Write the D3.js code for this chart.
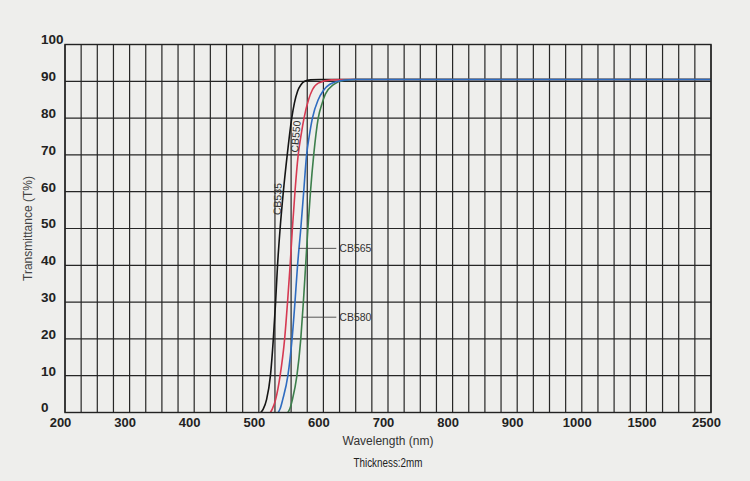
<!DOCTYPE html>
<html>
<head>
<meta charset="utf-8">
<script src="https://cdn.jsdelivr.net/npm/d3@7"></script>
<style>
  body { margin: 0; background: #eeeeec; }
  svg { display: block; }
</style>
</head>
<body>
<svg></svg>
<script>
// tick labels
const xTicks = [200, 300, 400, 500, 600, 700, 800, 900, 1000, 1500, 2500];
const yTicks = [0, 10, 20, 30, 40, 50, 60, 70, 80, 90, 100];

// [wavelength nm, transmittance %]
const cb535 = [[503, 0], [507, 1], [512, 3.5], [518, 10], [522.5, 20], [526, 30], [529, 40], [533, 50],
  [538, 60], [544, 70], [551, 80], [555, 84], [560, 87.3], [565, 89], [571, 90], [580, 90.4],
  [595, 90.5], [2500, 90.5]];
const cb550 = [[518, 0], [521, 1], [526, 3.5], [533, 10], [540, 20], [544.5, 30], [548.5, 40], [552, 50],
  [556, 60], [561, 70], [566, 76], [570, 80], [577, 85], [583, 87.7], [592, 89.5], [612, 90.4],
  [640, 90.5], [2500, 90.5]];
const cb565 = [[530, 0], [533, 1], [537, 3.5], [545, 10], [551.5, 20], [556, 30], [560, 40], [565, 50],
  [569.5, 60], [574, 70], [578, 75], [583, 80], [592, 85], [600, 87.5], [610, 89.2], [631, 90.3],
  [648, 90.5], [2500, 90.5]];
const cb580 = [[545, 0], [548, 1], [552, 3.5], [559, 10], [565, 20], [569, 30], [572.5, 40], [576, 50],
  [580, 60], [585, 70], [592, 80], [598, 84], [603, 86.5], [615, 89], [633, 90.3], [650, 90.5],
  [2500, 90.5]];

const series = [
  { name: "CB535", values: cb535, color: "#151515" },
  { name: "CB550", values: cb550, color: "#d63a52" },
  { name: "CB580", values: cb580, color: "#3d7f4c" },
  { name: "CB565", values: cb565, color: "#2f6cc0" }
];

// labels written on the curves: rotated ones and ones with a leader line
const rotatedLabels = [
  { text: "CB535", wl: 529, t: 58, angle: -88 },
  { text: "CB550", wl: 557, t: 75, angle: -85 }
];
const leaderLabels = [
  { text: "CB565", from: 562, to: 620, t: 44.6 },
  { text: "CB580", from: 568, to: 620, t: 25.9 }
];

const width = 750,
  height = 481;
const plotLeft = 65,
  plotRight = 711,
  plotTop = 44.5,
  plotBottom = 412.5;

const svg = d3.select("svg").attr("width", width).attr("height", height);

// every label step is the same width on the page, so the scale is piecewise
const step = (plotRight - plotLeft) / (xTicks.length - 1);
const x = d3.scaleLinear()
  .domain(xTicks)
  .range(xTicks.map((d, i) => plotLeft + i * step));
const y = d3.scaleLinear().domain([0, 100]).range([plotBottom, plotTop]);

// four grid cells between two labels
const gridX = [];
for (let i = 0; i < xTicks.length - 1; i++) {
  for (let k = 0; k < 4; k++) gridX.push(xTicks[i] + (xTicks[i + 1] - xTicks[i]) * k / 4);
}
gridX.push(xTicks[xTicks.length - 1]);

const grid = svg.append("g").attr("stroke", "#262626").attr("stroke-width", 1.2);
grid.selectAll("line.v")
  .data(gridX)
  .enter()
  .append("line")
  .attr("class", "v")
  .attr("x1", (d) => x(d))
  .attr("x2", (d) => x(d))
  .attr("y1", plotTop)
  .attr("y2", plotBottom);
grid.selectAll("line.h")
  .data(yTicks)
  .enter()
  .append("line")
  .attr("class", "h")
  .attr("x1", plotLeft)
  .attr("x2", plotRight)
  .attr("y1", (d) => y(d))
  .attr("y2", (d) => y(d));

// axes, only for their labels
const xAxis = svg.append("g")
  .attr("transform", "translate(0," + plotBottom + ")")
  .call(d3.axisBottom(x).tickValues(xTicks).tickSize(0).tickFormat(d3.format("d")));
xAxis.select(".domain").remove();
xAxis.selectAll("text")
  .attr("dy", "0.9em")
  .attr("dx", -5)
  .style("font", "bold 13px 'Liberation Sans', Arial, sans-serif")
  .attr("fill", "#222");

const yAxis = svg.append("g")
  .attr("transform", "translate(" + plotLeft + ",0)")
  .call(d3.axisLeft(y).tickValues(yTicks).tickSize(0));
yAxis.select(".domain").remove();
yAxis.selectAll("text")
  .attr("text-anchor", "start")
  .attr("x", -24)
  .attr("dy", "-0.05em")
  .style("font", "bold 13.5px 'Liberation Sans', Arial, sans-serif")
  .attr("fill", "#222");

// curves
const line = d3.line()
  .x((d) => x(d[0]))
  .y((d) => y(d[1]))
  .curve(d3.curveMonotoneX);

svg.append("g")
  .selectAll("path")
  .data(series)
  .enter()
  .append("path")
  .attr("d", (d) => line(d.values))
  .attr("fill", "none")
  .attr("stroke", (d) => d.color)
  .attr("stroke-width", 1.6);

// frame
svg.append("rect")
  .attr("x", plotLeft)
  .attr("y", plotTop)
  .attr("width", plotRight - plotLeft)
  .attr("height", plotBottom - plotTop)
  .attr("fill", "none")
  .attr("stroke", "#222")
  .attr("stroke-width", 1.4);

// curve labels
const labelFont = "10.5px 'Liberation Sans', Arial, sans-serif";
svg.selectAll("text.rot")
  .data(rotatedLabels)
  .enter()
  .append("text")
  .attr("class", "rot")
  .attr("transform", (d) => "translate(" + x(d.wl) + "," + y(d.t) + ") rotate(" + d.angle + ")")
  .attr("text-anchor", "middle")
  .attr("dy", "0.35em")
  .style("font", labelFont)
  .attr("fill", "#333")
  .text((d) => d.text);

const leaders = svg.selectAll("g.leader")
  .data(leaderLabels)
  .enter()
  .append("g")
  .attr("class", "leader");
leaders.append("line")
  .attr("x1", (d) => x(d.from))
  .attr("x2", (d) => x(d.to))
  .attr("y1", (d) => y(d.t))
  .attr("y2", (d) => y(d.t))
  .attr("stroke", "#444")
  .attr("stroke-width", 0.9);
leaders.append("text")
  .attr("x", (d) => x(d.to) + 3)
  .attr("y", (d) => y(d.t))
  .attr("dy", "0.35em")
  .style("font", labelFont)
  .attr("fill", "#333")
  .text((d) => d.text);

// titles
svg.append("text")
  .attr("transform", "translate(28," + (plotTop + plotBottom) / 2 + ") rotate(-90)")
  .attr("text-anchor", "middle")
  .attr("dy", "0.35em")
  .style("font", "12px 'Liberation Sans', Arial, sans-serif")
  .attr("fill", "#444")
  .text("Transmittance (T%)");

svg.append("text")
  .attr("x", (plotLeft + plotRight) / 2)
  .attr("y", 445)
  .attr("text-anchor", "middle")
  .style("font", "12px 'Liberation Sans', Arial, sans-serif")
  .attr("fill", "#333")
  .text("Wavelength (nm)");

svg.append("text")
  .attr("x", (plotLeft + plotRight) / 2)
  .attr("y", 467)
  .attr("text-anchor", "middle")
  .attr("textLength", 69)
  .attr("lengthAdjust", "spacingAndGlyphs")
  .style("font", "13.5px 'Liberation Sans Narrow', 'Liberation Sans', Arial, sans-serif")
  .attr("fill", "#222")
  .text("Thickness:2mm");
</script>
</body>
</html>
